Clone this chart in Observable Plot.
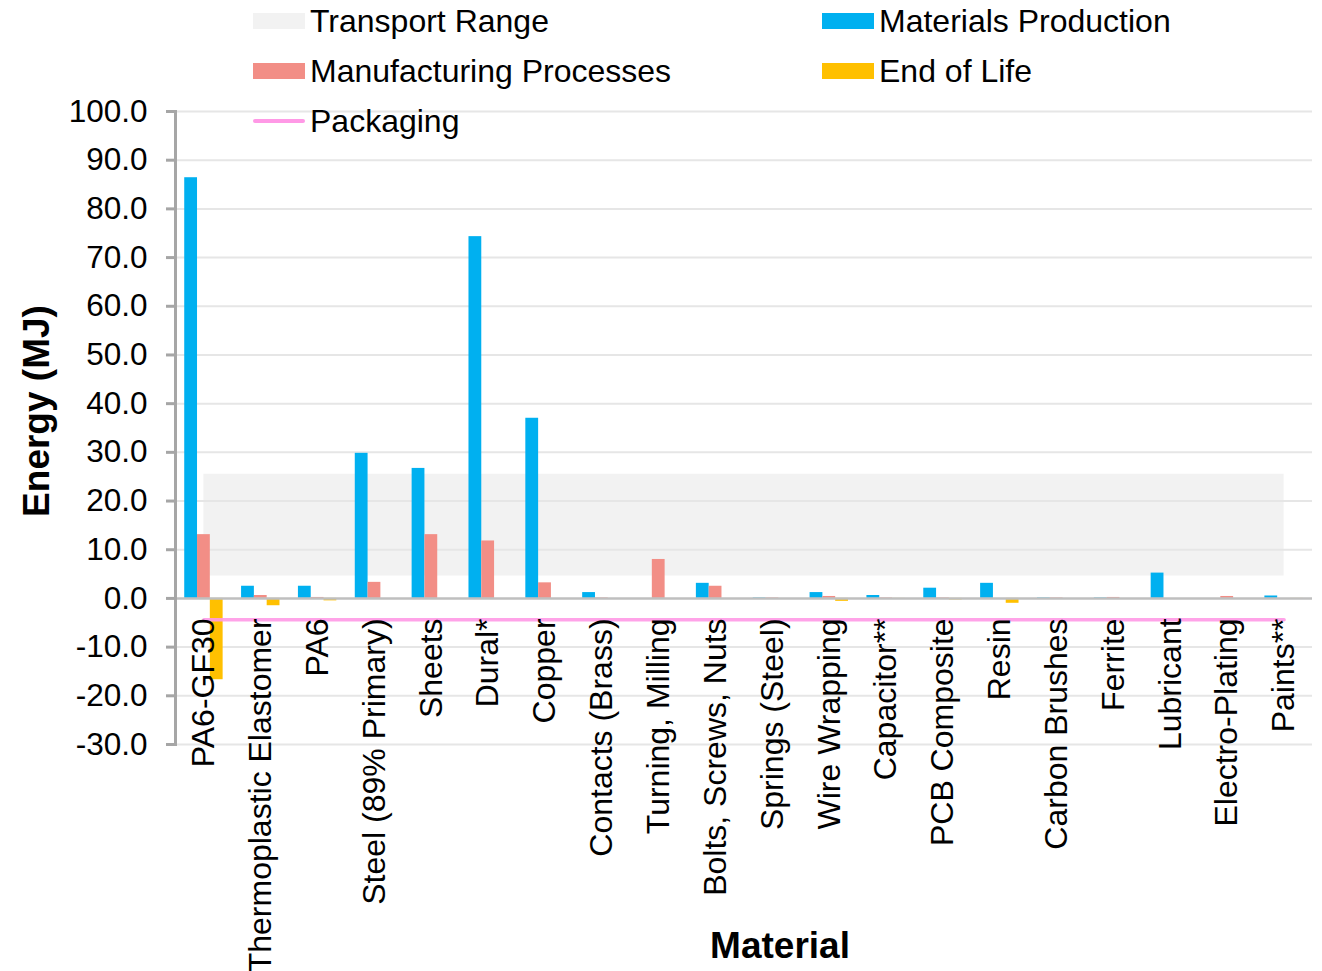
<!DOCTYPE html>
<html><head><meta charset="utf-8">
<script src="https://cdn.jsdelivr.net/npm/d3@7"></script>
<script src="https://cdn.jsdelivr.net/npm/@observablehq/plot@0.6"></script>
<style>
body{margin:0;background:#fff;font-family:"Liberation Sans",Arial,sans-serif;}
#wrap{position:relative;width:1322px;height:971px;overflow:hidden;}
#chart{position:absolute;left:0;top:0;}
.leg{position:absolute;height:40px;display:flex;align-items:center;font-size:32px;color:#000;white-space:nowrap;transform:translateY(-50%);}
.sw{width:52px;margin-right:5px;}
.title{position:absolute;font-weight:bold;font-size:37px;color:#000;white-space:nowrap;}
</style></head>
<body>
<div id="wrap"><div id="chart"></div></div>
<script>
const categories = ["PA6-GF30","Thermoplastic Elastomer","PA6","Steel (89% Primary)","Sheets","Dural*","Copper","Contacts (Brass)","Turning, Milling","Bolts, Screws, Nuts","Springs (Steel)","Wire Wrapping","Capacitor**","PCB Composite","Resin","Carbon Brushes","Ferrite","Lubricant","Electro-Plating","Paints**"];
const materialsProduction = [86.4, 2.5, 2.5, 29.8, 26.7, 74.3, 37.0, 1.2, 0, 3.1, 0.1, 1.2, 0.6, 2.1, 3.1, 0.1, 0.1, 5.2, 0, 0.5];
const manufacturingProcesses = [13.1, 0.6, 0.2, 3.3, 13.1, 11.8, 3.2, 0.1, 8.0, 2.5, 0.1, 0.4, 0.1, 0.1, 0, 0.1, 0.2, 0, 0.4, 0];
const endOfLife = [-16.7, -1.5, -0.5, 0, 0, 0, 0, 0, 0, 0, 0, -0.6, -0.1, -0.3, -1.0, 0, 0, 0, 0, -0.1];
const transportRange = [4.6, 25.5];
const packaging = -4.4;
const yTicks = [-30, -20, -10, 0, 10, 20, 30, 40, 50, 60, 70, 80, 90, 100];
const seriesNames = ["Transport Range", "Materials Production", "Manufacturing Processes", "End of Life", "Packaging"];
const seriesColors = ["#F2F2F2", "#00B0F0", "#F28E86", "#FFC000", "#FF99E6"];

const W = 1322, H = 971, mL = 175, mR = 10, mT = 111, mB = 227;
const step = (W - mL - mR) / categories.length;
const barW = 12.8;
const rows = arr => categories.map((c, i) => ({category: c, value: arr[i]}));
function bars(arr, i, color) {
  const left = step / 2 + (i - 1) * barW - barW / 2;
  return Plot.barY(rows(arr), {x: "category", y: "value", fill: color, insetLeft: left, insetRight: step - left - barW});
}

const chart = Plot.plot({
  width: W, height: H,
  marginLeft: mL, marginRight: mR, marginTop: mT, marginBottom: mB,
  style: {fontFamily: '"Liberation Sans", Arial, sans-serif', background: "#fff"},
  x: {domain: categories, paddingInner: 0, paddingOuter: 0, round: false, axis: null},
  y: {domain: [-30, 100], axis: null},
  marks: [
    Plot.areaY(categories, {x: d => d, y1: transportRange[0], y2: transportRange[1], fill: seriesColors[0]}),
    Plot.gridY(yTicks.filter(d => d !== 0), {stroke: "#E6E6E6", strokeOpacity: 1, strokeWidth: 2}),
    bars(materialsProduction, 0, seriesColors[1]),
    bars(manufacturingProcesses, 1, seriesColors[2]),
    bars(endOfLife, 2, seriesColors[3]),
    Plot.ruleY([0], {stroke: "#BFBFBF", strokeWidth: 2.5}),
    Plot.lineY(categories, {x: d => d, y: packaging, stroke: seriesColors[4], strokeWidth: 3.5, strokeOpacity: 0.9}),
    Plot.frame({anchor: "left", stroke: "#A6A6A6", strokeWidth: 3}),
    Plot.axisY(yTicks, {tickSize: 9, tickPadding: 19, tickFormat: d => d.toFixed(1), stroke: "#A6A6A6", strokeWidth: 3, fill: "#000", fontSize: 31.5, label: null}),
    Plot.text(categories, {x: d => d, y: 0, text: d => d, rotate: -90, textAnchor: "end", lineAnchor: "middle", dy: 20, fontSize: 32, fill: "#000"})
  ]
});
document.getElementById("chart").appendChild(chart);

const wrap = document.getElementById("wrap");
const legendLayout = [
  {i: 0, col: 0, row: 0}, {i: 1, col: 1, row: 0},
  {i: 2, col: 0, row: 1}, {i: 3, col: 1, row: 1},
  {i: 4, col: 0, row: 2}
];
const colX = [253, 822], rowY = [21, 71, 121];
legendLayout.forEach(({i, col, row}) => {
  const d = document.createElement("div");
  d.className = "leg";
  d.style.left = colX[col] + "px";
  d.style.top = rowY[row] + "px";
  const sw = document.createElement("div");
  sw.className = "sw";
  sw.style.background = seriesColors[i];
  sw.style.height = i === 4 ? "4px" : "16px";
  if (i === 4) sw.style.borderRadius = "2px";
  d.appendChild(sw);
  const t = document.createElement("span");
  t.textContent = seriesNames[i];
  d.appendChild(t);
  wrap.appendChild(d);
});
const yt = document.createElement("div");
yt.className = "title";
yt.textContent = "Energy (MJ)";
yt.style.left = "37px"; yt.style.top = "411px";
yt.style.transform = "translate(-50%,-50%) rotate(-90deg)";
wrap.appendChild(yt);
const xt = document.createElement("div");
xt.className = "title";
xt.textContent = "Material";
xt.style.left = "780px"; xt.style.top = "946px";
xt.style.transform = "translate(-50%,-50%)";
wrap.appendChild(xt);
</script>
</body></html>
